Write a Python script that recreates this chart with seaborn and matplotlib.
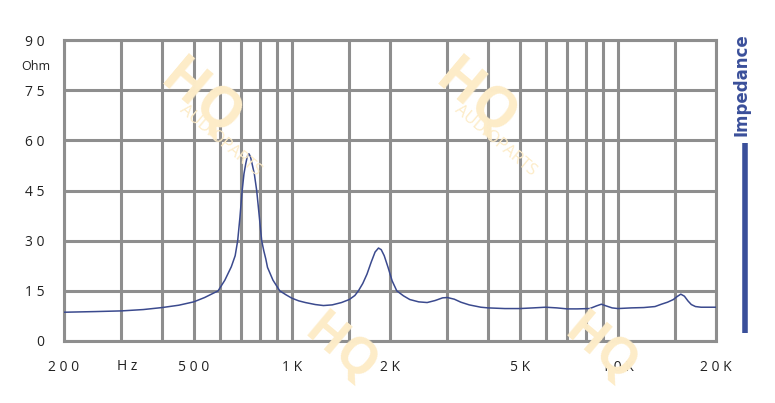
import matplotlib
matplotlib.use('Agg')
import matplotlib.pyplot as plt
import matplotlib.ticker as mticker
import pandas as pd
import seaborn as sns

# Impedance curve (Hz, Ohm)
FREQ = [200, 250, 300, 350, 400, 450, 500, 540, 594, 623, 652, 670, 682, 693,
        704, 713, 722, 730, 738, 746, 755, 767, 780, 794, 808, 820, 832, 842, 875,
        918, 960, 1000, 1050, 1100, 1180, 1250, 1330, 1420, 1500, 1560, 1600,
        1650, 1700, 1750, 1800, 1844, 1880, 1920, 1973, 2030, 2098, 2200, 2300,
        2450, 2600, 2750, 2900, 3000, 3150, 3300, 3500, 3800, 4000, 4500, 5000,
        5500, 6000, 6500, 7000, 7500, 8200, 8600, 8900, 9200, 9600, 10000, 11000,
        12000, 13000, 13600, 14200, 14800, 15200, 15600, 16000, 16400, 16800,
        17300, 18000, 19000, 20000]
OHM = [8.6, 8.8, 9.0, 9.4, 10.0, 10.7, 11.7, 13.0, 15.0, 18.2, 22.2, 25.5, 30.0, 37.0,
       45.0, 50.0, 53.0, 55.2, 56.0, 55.2, 53.0, 50.0, 45.0, 37.5, 30.0, 27.0, 24.5, 22.0, 18.2,
       15.0, 13.8, 12.8, 12.0, 11.5, 10.9, 10.6, 10.8, 11.5, 12.4, 13.6, 15.0,
       17.2, 20.0, 23.5, 26.6, 27.8, 27.3, 25.5, 22.0, 18.0, 15.0, 13.5, 12.4,
       11.7, 11.5, 12.1, 12.9, 13.0, 12.5, 11.6, 10.8, 10.1, 9.9, 9.7, 9.7,
       9.9, 10.1, 9.9, 9.6, 9.6, 9.7, 10.5, 11.0, 10.5, 9.9, 9.7, 9.9,
       10.0, 10.3, 11.0, 11.6, 12.4, 13.3, 14.0, 13.4, 12.0, 10.9,
       10.3, 10.1, 10.1, 10.1]

X_TICKS = [200, 500, 1000, 2000, 5000, 10000, 20000]
X_LABELS = ['2 0 0', '5 0 0', '1 K', '2 K', '5 K', '1 0 K', '2 0 K']
X_GRID = [300, 400, 600, 700, 800, 900, 1500, 3000, 4000, 6000, 7000, 8000, 9000, 15000]
Y_TICKS = [0, 15, 30, 45, 60, 75, 90]
Y_LABELS = ['0', '1 5', '3 0', '4 5', '6 0', '7 5', '9 0']

GRID_COLOR = '#8e8e8e'
CURVE_COLOR = '#3b4a8e'
BRAND_BLUE = '#3a4f9a'
WATERMARK = '#fdecc8'

sns.set_style('white')
plt.rcParams['font.family'] = ['Open Sans', 'DejaVu Sans']

fig = plt.figure(figsize=(7.75, 4.03), dpi=100)
ax = fig.add_axes([64 / 775, 62 / 403, 652 / 775, 301 / 403])

# faint watermark
for (wx, wy) in [(200, 100), (475, 100)]:
    fig.text(wx / 775, 1 - wy / 403, 'HQ', fontsize=40, fontweight='bold', color=WATERMARK,
             rotation=-40, ha='center', va='center', zorder=0)
    fig.text((wx + 20) / 775, 1 - (wy + 40) / 403, 'AUDIOPARTS', fontsize=12, color=WATERMARK,
             rotation=-40, ha='center', va='center', zorder=0)
for wx in [340, 600]:
    fig.text(wx / 775, 1 - 350 / 403, 'HQ', fontsize=36, fontweight='bold', color=WATERMARK,
             rotation=-40, ha='center', va='center', zorder=0)
ax.patch.set_alpha(0)

df = pd.DataFrame({'freq': FREQ, 'ohm': OHM})
sns.lineplot(data=df, x='freq', y='ohm', color=CURVE_COLOR, lw=1.1, ax=ax, zorder=3)

ax.set_xscale('log')
ax.set_xlim(200, 20000)
ax.set_ylim(0, 90)
ax.xaxis.set_major_locator(mticker.FixedLocator(X_TICKS))
ax.xaxis.set_major_formatter(mticker.FixedFormatter(X_LABELS))
ax.xaxis.set_minor_locator(mticker.FixedLocator(X_GRID))
ax.xaxis.set_minor_formatter(mticker.NullFormatter())
ax.set_yticks(Y_TICKS)
ax.set_yticklabels(Y_LABELS)

ax.grid(True, which='both', color=GRID_COLOR, lw=2.2, zorder=1)
ax.set_axisbelow(True)
for sp in ax.spines.values():
    sp.set_color(GRID_COLOR)
    sp.set_linewidth(2.2)

ax.tick_params(axis='both', which='major', direction='out', length=10, width=1,
               color='black', labelsize=10, pad=4, labelcolor='#222222')
ax.tick_params(axis='x', which='minor', length=0)
ax.set_xlabel('')
ax.set_ylabel('')

fig.text(127 / 775, 1 - 367 / 403, 'H z', fontsize=10, color='#222222', ha='center', va='center')
fig.text(36 / 775, 1 - 67 / 403, 'Ohm', fontsize=9, color='#222222', ha='center', va='center')

# right side label and bar
fig.text(741 / 775, 1 - 85 / 403, 'Impedance', fontsize=12, fontweight='bold', color=BRAND_BLUE,
         rotation=90, ha='center', va='center', family=['Liberation Sans Narrow', 'DejaVu Sans'])
fig.add_artist(plt.Line2D([745 / 775, 745 / 775], [1 - 143 / 403, 1 - 333 / 403],
                          color=BRAND_BLUE, lw=4, solid_capstyle='butt'))

fig.savefig('out.png', dpi=100, facecolor='white')
